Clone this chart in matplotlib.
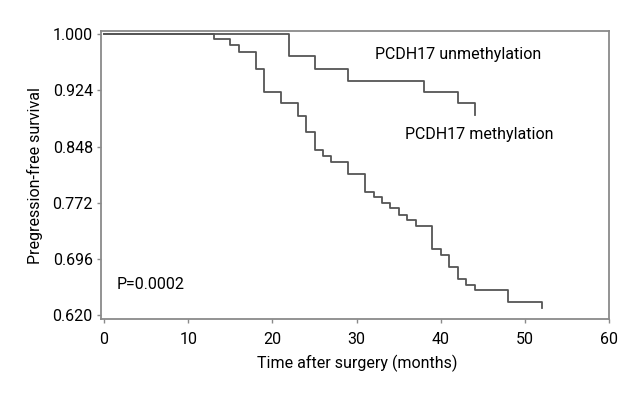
from matplotlib import pyplot as plt
import numpy as np

# Kaplan-Meier steps (time of drop, survival after drop)
unmeth_t = [0, 22, 25, 29, 38, 42, 44]
unmeth_s = [1.000, 0.970, 0.953, 0.937, 0.922, 0.907, 0.891]

meth_t = [0, 13, 15, 16, 18, 19, 21, 23, 24, 25, 26, 27, 29, 31, 32, 33,
          34, 35, 36, 37, 39, 40, 41, 42, 43, 44, 48, 52]
meth_s = [1.000, 0.994, 0.986, 0.976, 0.953, 0.922, 0.907, 0.890, 0.867,
          0.843, 0.835, 0.827, 0.811, 0.787, 0.780, 0.772, 0.764, 0.755,
          0.748, 0.740, 0.709, 0.701, 0.685, 0.669, 0.661, 0.654, 0.637,
          0.629]

xticks = [0, 10, 20, 30, 40, 50, 60]
yticks = [0.620, 0.696, 0.772, 0.848, 0.924, 1.000]

plt.rcParams['font.family'] = ['Roboto', 'DejaVu Sans']
fs = 11.5

fig = plt.figure(figsize=(6.4, 4), dpi=100)
ax = fig.add_axes([0.158, 0.202, 0.794, 0.7205])

line_c = '#555555'
ax.step(unmeth_t, unmeth_s, where='post', color=line_c, lw=1.3)
ax.step(meth_t, meth_s, where='post', color=line_c, lw=1.3)

ax.set_xlim(-0.35, 60)
ax.set_ylim(0.614, 1.0045)
ax.set_xticks(xticks)
ax.set_yticks(yticks)
ax.set_yticklabels(['%.3f' % v for v in yticks])

for sp in ax.spines.values():
    sp.set_color('#8a8a8a')
    sp.set_linewidth(1.3)

ax.tick_params(axis='both', direction='out', length=3, width=1.0,
               color='#8a8a8a', labelsize=fs)
ax.tick_params(axis='x', pad=6)
ax.tick_params(axis='y', pad=3)

ax.set_xlabel('Time after surgery (months)', fontsize=fs)
ax.set_ylabel('Pregression-free survival', fontsize=fs)
ax.xaxis.set_label_coords(0.505, -0.122)
ax.yaxis.set_label_coords(-0.115, 0.5)

ax.text(32.2, 0.972, 'PCDH17 unmethylation', fontsize=fs, va='center')
ax.text(35.7, 0.8636, 'PCDH17 methylation', fontsize=fs, va='center')
ax.text(1.5, 0.661, 'P=0.0002', fontsize=fs, va='center')

plt.savefig('out.png', dpi=100)
